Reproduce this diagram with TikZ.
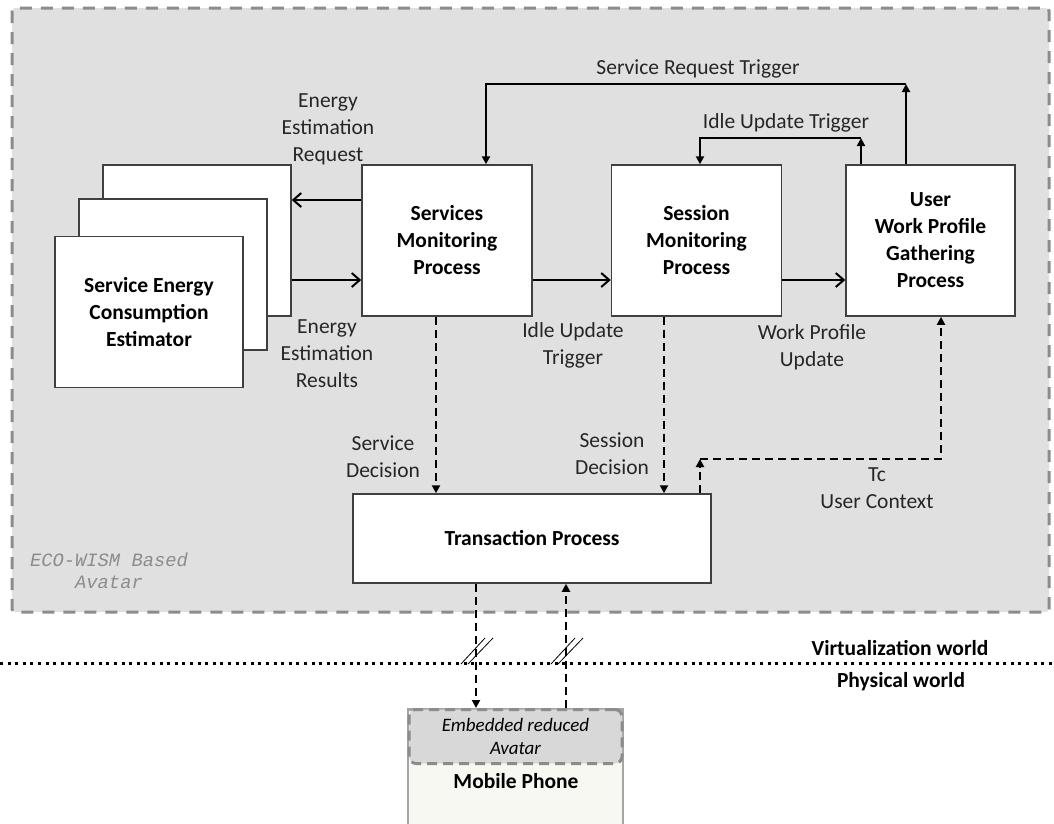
\documentclass[tikz,border=0pt]{standalone}
\usepackage{fontspec}
\setmainfont{Carlito}
\newfontfamily\avatarfont{Liberation Mono}
\usepackage{xcolor}
\usetikzlibrary{arrows.meta,positioning,calc}

\definecolor{avatarbg}{HTML}{E0E0E0}
\definecolor{avatarln}{HTML}{8C8C8C}
\definecolor{boxln}{HTML}{404040}
\definecolor{phonebg}{HTML}{F8F8F3}
\definecolor{embedbg}{HTML}{D8D8D8}

\newcommand{\mainsize}{\fontsize{21.5}{27}\selectfont}

\begin{document}
\begin{tikzpicture}[
    x=1pt, y=-1pt,
    font=\mainsize,
    proc/.style={draw=boxln, line width=1.5pt, fill=white, align=center, font=\mainsize\bfseries, inner sep=0pt},
    lbl/.style={align=center, inner sep=0pt, text=black!85},
    world/.style={font=\mainsize\bfseries, inner sep=0pt},
    flow/.style={-{Straight Barb[length=8pt,width=14pt,line width=2pt]}, line width=2pt},
    trig/.style={-{Triangle[length=8pt,width=8pt]}, line width=2pt},
    decision/.style={-{Triangle[length=8pt,width=8pt]}, line width=2pt, dash pattern=on 8pt off 5pt},
]
\useasboundingbox (0,0) rectangle (1054,823);
\clip (0,0) rectangle (1054,823);

% ---------- Avatar frame ----------
\draw[fill=avatarbg, draw=avatarln, line width=3pt, dash pattern=on 12pt off 9pt, rounded corners=3pt]
    (12,8) rectangle (1049,612);
\node[lbl, text=avatarln, font=\avatarfont\itshape\fontsize{18.8}{22}\selectfont] (avatar) at (109,571) {ECO-WISM Based\\Avatar};

% ---------- Estimator stack ----------
\node[proc, minimum width=188pt, minimum height=151pt] (back) at (197,240.5) {};
\node[proc, minimum width=188pt, minimum height=151pt] (mid) at ($(back.center)+(-24,34)$) {};
\node[proc, minimum width=188pt, minimum height=151pt] (est) at ($(mid.center)+(-24,37.5)$) {Service Energy\\Consumption\\Estimator};

% ---------- Monitoring processes ----------
\node[proc, minimum width=170pt, minimum height=151pt] (smp) at (447,240.5) {Services\\Monitoring\\Process};
\node[proc, minimum width=170pt, minimum height=151pt, right=78pt of smp] (sess) {Session\\Monitoring\\Process};
\node[proc, minimum width=169pt, minimum height=151pt, right=63pt of sess] (user) {User\\Work Profile\\Gathering\\Process};
\node[proc, minimum width=358pt, minimum height=89pt] (trans) at (532,538.5) {Transaction Process};

% ---------- Mobile phone ----------
\node[draw=black!35, line width=2.5pt, fill=phonebg, minimum width=215pt, minimum height=130pt, anchor=north, inner sep=0pt] (phone) at (515.5,708) {};
\node[draw=avatarln, line width=3pt, dash pattern=on 10pt off 6pt, rounded corners=7pt, fill=embedbg,
      minimum width=213pt, minimum height=54pt, anchor=north, align=center, inner sep=0pt,
      font=\itshape\fontsize{19}{23}\selectfont] (embed) at (515.5,708) {Embedded reduced\\Avatar};
\node[world] (mobile) at (516,781) {Mobile Phone};

% ---------- Helper corners ----------
\coordinate (srt) at (906,84);
\coordinate (iut) at (861,138);
\coordinate (ucc) at (700,459);

% ---------- Solid arrows ----------
\draw[flow] (smp.west |- 0,200) -- (back.east |- 0,200);
\draw[flow] (back.east |- 0,280) -- (smp.west |- 0,280);
\draw[flow] (smp.east |- 0,280) -- (sess.west |- 0,280);
\draw[flow] (sess.east |- 0,280) -- (user.west |- 0,280);

\draw[trig] (user.north -| srt) -- (srt);
\draw[trig] (srt) -| (smp.north -| 486,0);
\draw[trig] (user.north -| iut) -- (iut);
\draw[trig] (iut) -| (sess.north -| 700,0);

% ---------- Dashed arrows ----------
\draw[decision] (smp.south -| 436,0) -- (trans.north -| 436,0);
\draw[decision] (sess.south -| 664,0) -- (trans.north -| 664,0);
\draw[decision] (trans.north -| ucc) -- (ucc);
\draw[decision] (ucc) -| (user.south -| 941,0);
\draw[decision] (trans.south -| 476,0) -- (embed.north -| 476,0);
\draw[decision] (embed.north -| 566,0) -- (trans.south -| 566,0);

% ---------- World border ----------
\coordinate (wl) at (0,663);
\coordinate (wr) at (1054,663);
\draw[line width=3pt, dash pattern=on 3pt off 4.6pt] (wl) -- (wr);
\foreach \bx in {476,566} {
  \draw[line width=0.8pt] (\bx-15,664) -- (\bx+9,638);
  \draw[line width=0.8pt] (\bx-8,664) -- (\bx+17,638);
}
\node[world] (virt) at (900,648) {Virtualization world};
\node[world] (phys) at (901,682) {Physical world};

% ---------- Labels ----------
\node[lbl] (lreq) at (328,129) {Energy\\Estimation\\Request};
\node[lbl] (lres) at (327,354) {Energy\\Estimation\\Results};
\node[lbl] (lsrt) at (698,69) {Service Request Trigger};
\node[lbl] (liut) at (786,123) {Idle Update Trigger};
\node[lbl] (lidle) at (573,345.5) {Idle Update\\Trigger};
\node[lbl] (lwpu) at (812,347.5) {Work Profile\\Update};
\node[lbl] (lsvd) at (383,456.5) {Service\\Decision};
\node[lbl] (lssd) at (612,454) {Session\\Decision};
\node[lbl] (luc) at (877,488.5) {Tc\\User Context};

\end{tikzpicture}
\end{document}
